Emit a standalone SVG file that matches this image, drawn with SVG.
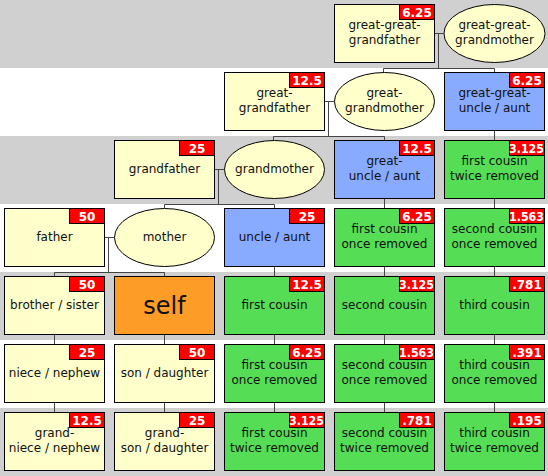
<svg xmlns="http://www.w3.org/2000/svg" width="548" height="476" viewBox="0 0 548 476">
<style>
.band{fill:#d0d0d0}
.box{stroke:#000;stroke-width:1}
.y{fill:#ffffcc}
.b{fill:#88aaff}
.g{fill:#55dd55}
.o{fill:#fd9c27}
.badge{fill:#ff0000;stroke:#000;stroke-width:1}
.bt{font-family:"DejaVu Sans",sans-serif;font-size:12px;font-weight:bold;fill:#fff;text-anchor:middle}
.t{font-family:"DejaVu Sans",sans-serif;font-size:12px;fill:#111;text-anchor:middle}
.self{font-family:"DejaVu Sans",sans-serif;font-size:24px;fill:#111;text-anchor:middle}
#connectors path{fill:none;stroke:#444;stroke-width:1}
</style>
<rect width="548" height="476" fill="#fff"/>
<g id="bands">
<rect class="band" x="0" y="0" width="548" height="68"/>
<rect class="band" x="0" y="136" width="548" height="68"/>
<rect class="band" x="0" y="272" width="548" height="68"/>
<rect class="band" x="0" y="408" width="548" height="68"/>
</g>
<g id="connectors">
<path d="M434.5,33.5H443.5M438.5,33.5V68.5M383.5,68.5H494.5M383.5,68.5V72M494.5,68.5V72"/>
<path d="M324.5,101.5H334.5M328.5,101.5V136.5M273.5,136.5H384.5M273.5,136.5V140M384.5,136.5V140"/>
<path d="M214.5,169.5H224.5M218.5,169.5V204.5M164.5,204.5H274.5M164.5,204.5V208M274.5,204.5V208"/>
<path d="M104.5,237.5H114.5M108.5,237.5V272.5M54.5,272.5H164.5M54.5,272.5V276M164.5,272.5V276"/>
<path d="M494.5,130V140M494.5,198V208M494.5,266V276M494.5,334V344M494.5,402V412"/>
<path d="M384.5,198V208M384.5,266V276M384.5,334V344M384.5,402V412"/>
<path d="M274.5,266V276M274.5,334V344M274.5,402V412"/>
<path d="M164.5,334V344M164.5,402V412"/>
<path d="M54.5,334V344M54.5,402V412"/>
</g>
<g id="gg-grandfather"><rect class="box y" x="334.5" y="4.5" width="100" height="58"/><rect class="badge" x="399.5" y="4.5" width="35" height="15"/><text class="bt" x="417" y="16.5">6.25</text><text class="t" x="384.5" y="29">great-great-</text><text class="t" x="384.5" y="44">grandfather</text></g>
<g id="gg-grandmother"><ellipse class="box y" cx="494.5" cy="33.5" rx="50.5" ry="29"/><text class="t" x="494.5" y="29">great-great-</text><text class="t" x="494.5" y="44">grandmother</text></g>
<g id="g-grandfather"><rect class="box y" x="224.5" y="72.5" width="100" height="58"/><rect class="badge" x="289.5" y="72.5" width="35" height="15"/><text class="bt" x="307" y="84.5">12.5</text><text class="t" x="274.5" y="97">great-</text><text class="t" x="274.5" y="112">grandfather</text></g>
<g id="g-grandmother"><ellipse class="box y" cx="384.5" cy="101.5" rx="50" ry="29"/><text class="t" x="384.5" y="97">great-</text><text class="t" x="384.5" y="112">grandmother</text></g>
<g id="gg-uncle"><rect class="box b" x="444.5" y="72.5" width="100" height="58"/><rect class="badge" x="509.5" y="72.5" width="35" height="15"/><text class="bt" x="527" y="84.5">6.25</text><text class="t" x="494.5" y="97">great-great-</text><text class="t" x="494.5" y="112">uncle / aunt</text></g>
<g id="grandfather"><rect class="box y" x="114.5" y="140.5" width="100" height="58"/><rect class="badge" x="179.5" y="140.5" width="35" height="15"/><text class="bt" x="197" y="152.5">25</text><text class="t" x="164.5" y="173">grandfather</text></g>
<g id="grandmother"><ellipse class="box y" cx="274.5" cy="169.5" rx="50" ry="29"/><text class="t" x="274.5" y="173">grandmother</text></g>
<g id="g-uncle"><rect class="box b" x="334.5" y="140.5" width="100" height="58"/><rect class="badge" x="399.5" y="140.5" width="35" height="15"/><text class="bt" x="417" y="152.5">12.5</text><text class="t" x="384.5" y="165">great-</text><text class="t" x="384.5" y="180">uncle / aunt</text></g>
<g id="fc2r-a"><rect class="box g" x="444.5" y="140.5" width="100" height="58"/><rect class="badge" x="509.5" y="140.5" width="35" height="15"/><text class="bt" x="526.5" y="152.5" textLength="35" lengthAdjust="spacingAndGlyphs">3.125</text><text class="t" x="494.5" y="165">first cousin</text><text class="t" x="494.5" y="180">twice removed</text></g>
<g id="father"><rect class="box y" x="4.5" y="208.5" width="100" height="58"/><rect class="badge" x="69.5" y="208.5" width="35" height="15"/><text class="bt" x="87" y="220.5">50</text><text class="t" x="54.5" y="241">father</text></g>
<g id="mother"><ellipse class="box y" cx="164.5" cy="237.5" rx="50" ry="29"/><text class="t" x="164.5" y="241">mother</text></g>
<g id="uncle"><rect class="box b" x="224.5" y="208.5" width="100" height="58"/><rect class="badge" x="289.5" y="208.5" width="35" height="15"/><text class="bt" x="307" y="220.5">25</text><text class="t" x="274.5" y="241">uncle / aunt</text></g>
<g id="fc1r-a"><rect class="box g" x="334.5" y="208.5" width="100" height="58"/><rect class="badge" x="399.5" y="208.5" width="35" height="15"/><text class="bt" x="417" y="220.5">6.25</text><text class="t" x="384.5" y="233">first cousin</text><text class="t" x="384.5" y="248">once removed</text></g>
<g id="sc1r-a"><rect class="box g" x="444.5" y="208.5" width="100" height="58"/><rect class="badge" x="509.5" y="208.5" width="35" height="15"/><text class="bt" x="526.5" y="220.5" textLength="35" lengthAdjust="spacingAndGlyphs">1.563</text><text class="t" x="494.5" y="233">second cousin</text><text class="t" x="494.5" y="248">once removed</text></g>
<g id="sibling"><rect class="box y" x="4.5" y="276.5" width="100" height="58"/><rect class="badge" x="69.5" y="276.5" width="35" height="15"/><text class="bt" x="87" y="288.5">50</text><text class="t" x="54.5" y="309">brother / sister</text></g>
<g id="self"><rect class="box o" x="114.5" y="276.5" width="100" height="58"/><text class="self" x="164.5" y="314">self</text></g>
<g id="first-cousin"><rect class="box g" x="224.5" y="276.5" width="100" height="58"/><rect class="badge" x="289.5" y="276.5" width="35" height="15"/><text class="bt" x="307" y="288.5">12.5</text><text class="t" x="274.5" y="309">first cousin</text></g>
<g id="second-cousin"><rect class="box g" x="334.5" y="276.5" width="100" height="58"/><rect class="badge" x="399.5" y="276.5" width="35" height="15"/><text class="bt" x="416.5" y="288.5" textLength="35" lengthAdjust="spacingAndGlyphs">3.125</text><text class="t" x="384.5" y="309">second cousin</text></g>
<g id="third-cousin"><rect class="box g" x="444.5" y="276.5" width="100" height="58"/><rect class="badge" x="509.5" y="276.5" width="35" height="15"/><text class="bt" x="527" y="288.5">.781</text><text class="t" x="494.5" y="309">third cousin</text></g>
<g id="niece"><rect class="box y" x="4.5" y="344.5" width="100" height="58"/><rect class="badge" x="69.5" y="344.5" width="35" height="15"/><text class="bt" x="87" y="356.5">25</text><text class="t" x="54.5" y="377">niece / nephew</text></g>
<g id="child"><rect class="box y" x="114.5" y="344.5" width="100" height="58"/><rect class="badge" x="179.5" y="344.5" width="35" height="15"/><text class="bt" x="197" y="356.5">50</text><text class="t" x="164.5" y="377">son / daughter</text></g>
<g id="fc1r-b"><rect class="box g" x="224.5" y="344.5" width="100" height="58"/><rect class="badge" x="289.5" y="344.5" width="35" height="15"/><text class="bt" x="307" y="356.5">6.25</text><text class="t" x="274.5" y="369">first cousin</text><text class="t" x="274.5" y="384">once removed</text></g>
<g id="sc1r-b"><rect class="box g" x="334.5" y="344.5" width="100" height="58"/><rect class="badge" x="399.5" y="344.5" width="35" height="15"/><text class="bt" x="416.5" y="356.5" textLength="35" lengthAdjust="spacingAndGlyphs">1.563</text><text class="t" x="384.5" y="369">second cousin</text><text class="t" x="384.5" y="384">once removed</text></g>
<g id="tc1r"><rect class="box g" x="444.5" y="344.5" width="100" height="58"/><rect class="badge" x="509.5" y="344.5" width="35" height="15"/><text class="bt" x="527" y="356.5">.391</text><text class="t" x="494.5" y="369">third cousin</text><text class="t" x="494.5" y="384">once removed</text></g>
<g id="grandniece"><rect class="box y" x="4.5" y="412.5" width="100" height="58"/><rect class="badge" x="69.5" y="412.5" width="35" height="15"/><text class="bt" x="87" y="424.5">12.5</text><text class="t" x="54.5" y="437">grand-</text><text class="t" x="54.5" y="452">niece / nephew</text></g>
<g id="grandchild"><rect class="box y" x="114.5" y="412.5" width="100" height="58"/><rect class="badge" x="179.5" y="412.5" width="35" height="15"/><text class="bt" x="197" y="424.5">25</text><text class="t" x="164.5" y="437">grand-</text><text class="t" x="164.5" y="452">son / daughter</text></g>
<g id="fc2r-b"><rect class="box g" x="224.5" y="412.5" width="100" height="58"/><rect class="badge" x="289.5" y="412.5" width="35" height="15"/><text class="bt" x="306.5" y="424.5" textLength="35" lengthAdjust="spacingAndGlyphs">3.125</text><text class="t" x="274.5" y="437">first cousin</text><text class="t" x="274.5" y="452">twice removed</text></g>
<g id="sc2r"><rect class="box g" x="334.5" y="412.5" width="100" height="58"/><rect class="badge" x="399.5" y="412.5" width="35" height="15"/><text class="bt" x="417" y="424.5">.781</text><text class="t" x="384.5" y="437">second cousin</text><text class="t" x="384.5" y="452">twice removed</text></g>
<g id="tc2r"><rect class="box g" x="444.5" y="412.5" width="100" height="58"/><rect class="badge" x="509.5" y="412.5" width="35" height="15"/><text class="bt" x="527" y="424.5">.195</text><text class="t" x="494.5" y="437">third cousin</text><text class="t" x="494.5" y="452">twice removed</text></g>
</svg>
